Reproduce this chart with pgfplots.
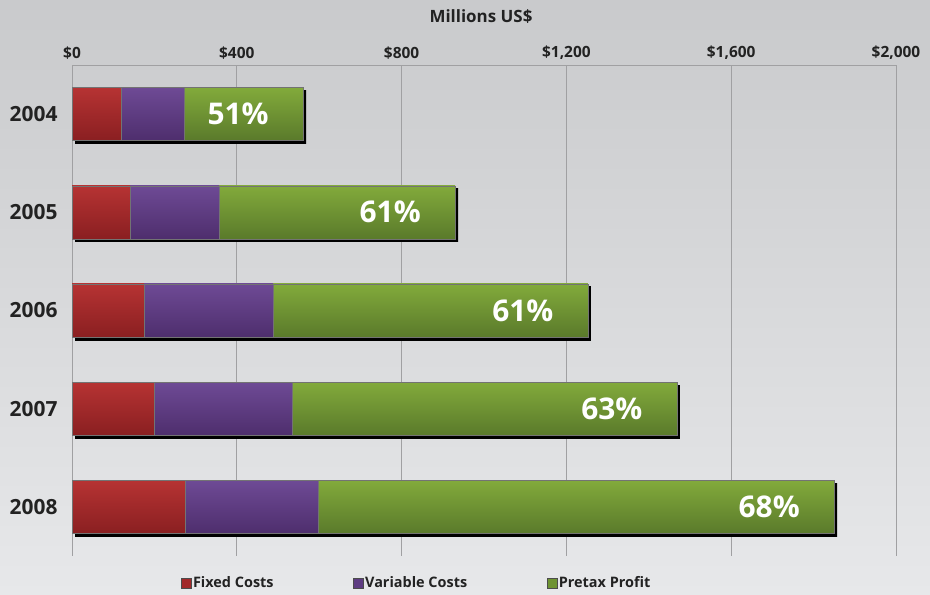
\documentclass[border=0pt]{standalone}
\usepackage{pgfplots}
\pgfplotsset{compat=1.18}
\usepackage{fontspec}
\setmainfont{Open Sans}
\usetikzlibrary{shadows}
\definecolor{bgtop}{HTML}{C9CACC}
\definecolor{bgbot}{HTML}{E7E8EA}
\definecolor{redF}{HTML}{A2292A}
\definecolor{purF}{HTML}{5E3C82}
\definecolor{grnF}{HTML}{6E9332}
\definecolor{redT}{HTML}{B63333}
\definecolor{redB}{HTML}{8A1F21}
\definecolor{purT}{HTML}{6E4A95}
\definecolor{purB}{HTML}{4E2E6D}
\definecolor{grnT}{HTML}{82AA3B}
\definecolor{grnB}{HTML}{5A7A2B}
\definecolor{txt}{HTML}{222222}
\definecolor{gridc}{HTML}{A0A0A2}
\pgfplotsset{
  redbar/.style={top color=redT, bottom color=redB, draw=black!55, line width=0.5pt},
  purbar/.style={top color=purT, bottom color=purB, draw=black!55, line width=0.5pt},
  grnbar/.style={top color=grnT, bottom color=grnB, draw=black!55, line width=0.5pt,
    drop shadow={shadow xshift=3bp, shadow yshift=-3bp, top color=black, bottom color=black,
      fill=black, opacity=1, draw=none},
    nodes near coords, point meta=explicit symbolic,
    every node near coord/.append style={anchor=center, xshift=-65bp, text=white,
      font=\fontsize{30}{30}\selectfont\bfseries}},
}
\begin{document}
\begin{tikzpicture}
\path[use as bounding box] (0,0) rectangle (930bp,595bp);
\shade[top color=bgtop, bottom color=bgbot] (0,0) rectangle (930bp,595bp);
\node[font=\fontsize{17}{17}\selectfont\bfseries, text=txt] at (481bp,578bp) {Millions US\$};
\begin{axis}[
  at={(72bp,39bp)}, anchor=south west,
  scale only axis, width=824bp, height=491bp,
  xbar, bar width=0.54, bar shift=0pt,
  xmin=0, xmax=2000, ymin=-0.5, ymax=4.5, y dir=reverse,
  ytick={0,1,2,3,4}, yticklabels={2004,2005,2006,2007,2008},
  xtick={0,400,800,1200,1600,2000},
  axis x line*=top, axis y line*=left,
  axis line style={draw=gridc, line width=0.9pt, -},
  major tick length=0pt,
  xmajorgrids, grid style={draw=gridc, line width=0.9pt},
  /pgf/number format/assume math mode=true,
  /pgf/number format/1000 sep={,},
  xticklabel={\$\pgfmathprintnumber{\tick}},
  xticklabel style={font=\fontsize{15.5}{15.5}\selectfont\bfseries, text=txt, yshift=2bp},
  yticklabel style={font=\fontsize{21}{21}\selectfont\bfseries, text=txt, xshift=-11bp},
  legend columns=3,
  legend style={at={(0.418,-0.055)}, anchor=center, draw=none, fill=none,
    font=\fontsize{14.5}{14.5}\selectfont\bfseries, text=txt,
    /tikz/every even column/.append style={column sep=78bp},
    nodes={inner sep=1.5bp}},
  legend image code/.code={\draw[#1] (0bp,-5bp) rectangle (10bp,5bp);},
]
\addlegendimage{fill=redF, draw=black!70, line width=0.5pt}
\addlegendimage{fill=purF, draw=black!70, line width=0.5pt}
\addlegendimage{fill=grnF, draw=black!70, line width=0.5pt}
\legend{Fixed Costs, Variable Costs, Pretax Profit}
% total (end of Pretax Profit), end of Variable Costs, end of Fixed Costs
\addplot[grnbar] coordinates {(561,0)[51\%]};
\addplot[purbar] coordinates {(272,0)};
\addplot[redbar] coordinates {(119,0)};
\addplot[grnbar] coordinates {(930,1)[61\%]};
\addplot[purbar] coordinates {(357,1)};
\addplot[redbar] coordinates {(141,1)};
\addplot[grnbar] coordinates {(1252,2)[61\%]};
\addplot[purbar] coordinates {(488,2)};
\addplot[redbar] coordinates {(175,2)};
\addplot[grnbar] coordinates {(1468,3)[63\%]};
\addplot[purbar] coordinates {(534,3)};
\addplot[redbar] coordinates {(199,3)};
\addplot[grnbar] coordinates {(1850,4)[68\%]};
\addplot[purbar] coordinates {(597,4)};
\addplot[redbar] coordinates {(274,4)};
\end{axis}
\end{tikzpicture}
\end{document}
